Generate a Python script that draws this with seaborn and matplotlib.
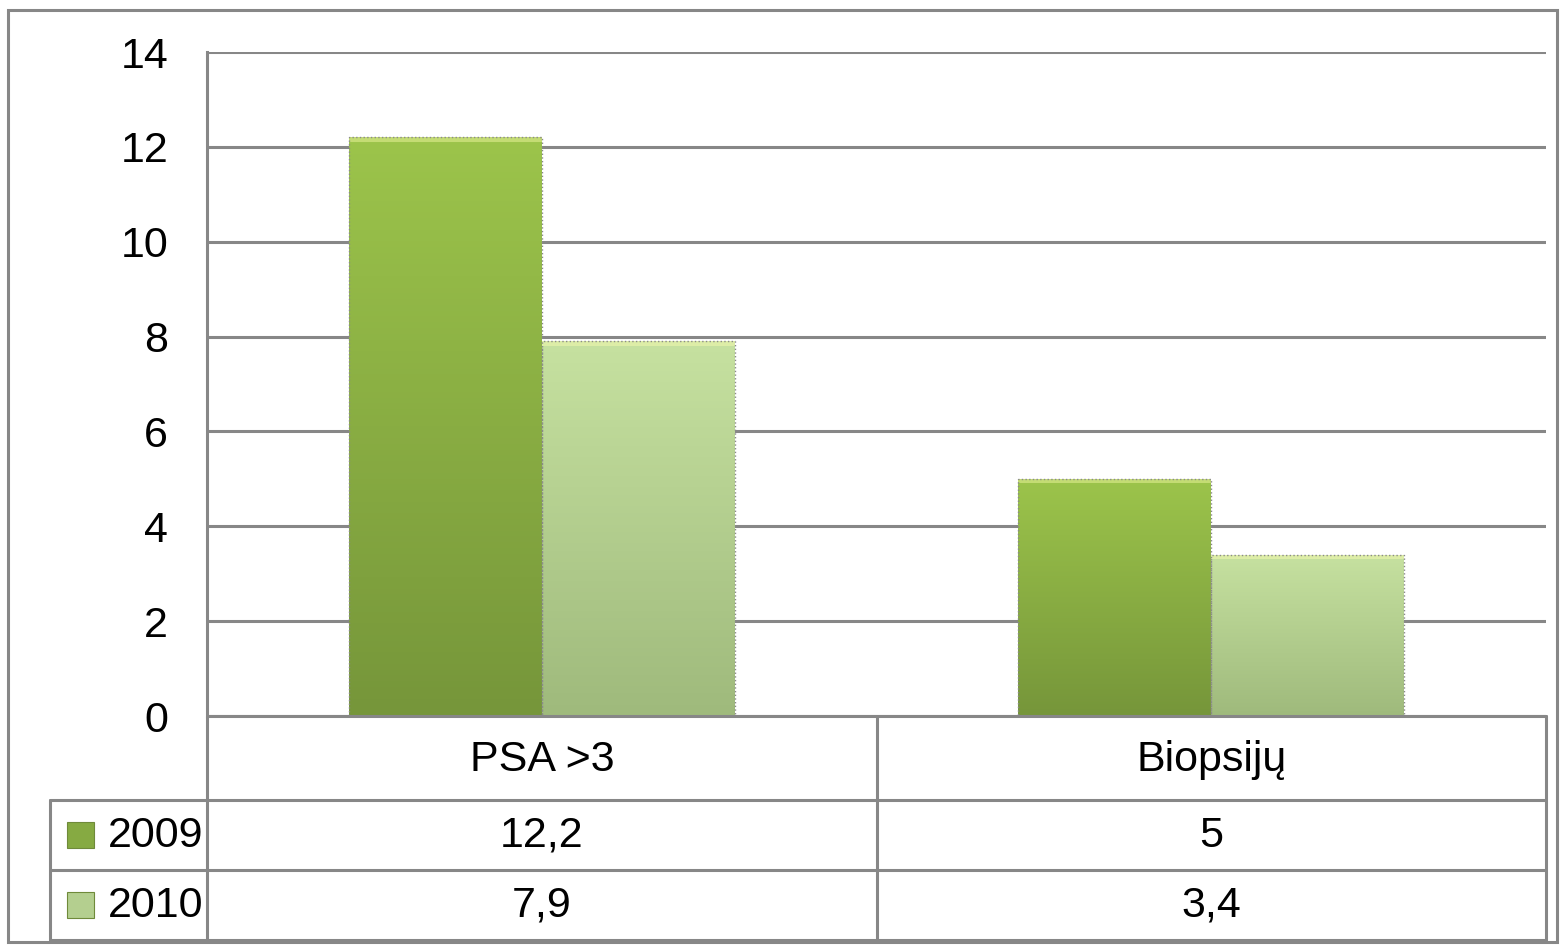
import numpy as np
import pandas as pd
import seaborn as sns
import matplotlib.pyplot as plt
from matplotlib.patches import Rectangle

# duomenys
categories = ['PSA >3', 'Biopsijų']
years = ['2009', '2010']
values_2009 = [12.2, 5]
values_2010 = [7.9, 3.4]
value_labels_2009 = ['12,2', '5']
value_labels_2010 = ['7,9', '3,4']
y_ticks = [0, 2, 4, 6, 8, 10, 12, 14]

# gradient spalvos (viršus, apačia)
grad = {'2009': ('#9cc44b', '#76963a'), '2010': ('#c6e1a0', '#9fba7c')}
key_col = {'2009': '#86aa42', '2010': '#b4cf8f'}

df = pd.DataFrame({
    'category': categories * 2,
    'year': [years[0]] * 2 + [years[1]] * 2,
    'value': values_2009 + values_2010,
})

sns.set_style('white')
plt.rcParams['font.family'] = ['Liberation Sans', 'DejaVu Sans']
plt.rcParams['text.color'] = 'black'
plt.rcParams['ytick.labelcolor'] = 'black'

W, H = 1566, 952
fig = plt.figure(figsize=(W / 100, H / 100), dpi=100)

# pagrindinė ašis
x0, x1, y_top, y_bot = 207, 1546, 52, 716
ax = fig.add_axes([x0 / W, (H - y_bot) / H, (x1 - x0) / W, (y_bot - y_top) / H])
sns.barplot(data=df, x='category', y='value', hue='year', hue_order=years,
            palette=[key_col[y] for y in years], width=0.576, saturation=1,
            legend=False, ax=ax, edgecolor='none', zorder=3)
ax.set_xlim(-0.5, 1.5)
ax.set_ylim(0, 14)
ax.set_yticks(y_ticks)
ax.set_yticklabels([str(t) for t in y_ticks], fontsize=31, color='black')
ax.set_xticks([])
ax.set_xlabel('')
ax.set_ylabel('')
ax.grid(axis='y', color='#878787', linewidth=2.2, zorder=0)
ax.tick_params(axis='y', length=14, width=2.2, color='#878787', pad=14)
for s in ['top', 'right', 'bottom']:
    ax.spines[s].set_visible(False)
ax.spines['left'].set_color('#878787')
ax.spines['left'].set_linewidth(2.2)

# gradientai stulpeliams
bars = [p for p in ax.patches if p.get_height() > 0]
n = len(categories)
for i, p in enumerate(bars):
    yr = years[i // n]
    top, bot = grad[yr]
    c1 = np.array(plt.matplotlib.colors.to_rgb(top))
    c2 = np.array(plt.matplotlib.colors.to_rgb(bot))
    t = np.linspace(0, 1, 100)[:, None]
    img = (c1 * (1 - t) + c2 * t)[:, None, :]
    bx, bw, bh = p.get_x(), p.get_width(), p.get_height()
    im = ax.imshow(img, extent=[bx, bx + bw, 0, bh], aspect='auto',
                   zorder=3, origin='upper')
    im.set_clip_path(p)
    # šviesesnis viršutinis kraštas
    light = c1 * 0.6 + np.array([1.0, 1.0, 0.7]) * 0.4
    ax.add_patch(Rectangle((bx, bh - 0.09), bw, 0.09, facecolor=np.clip(light, 0, 1),
                           edgecolor='none', zorder=4))
    ax.add_patch(Rectangle((bx, 0), bw, bh, fill=False,
                           edgecolor='#8a8a8a', linewidth=1.0,
                           linestyle=':', zorder=4))
ax.set_xlim(-0.5, 1.5)
ax.set_ylim(0, 14)

# lentelė ir rėmelis
ov = fig.add_axes([0, 0, 1, 1], facecolor='none')
ov.set_xlim(0, W)
ov.set_ylim(H, 0)
ov.axis('off')
lc = '#878787'
lw = 2.2
ov.add_patch(Rectangle((8, 10), 1549, 932, fill=False, edgecolor=lc, linewidth=lw))
mid = 877
row_y = [716, 800, 870, 940]
ov.plot([x0, x1], [716, 716], color=lc, lw=lw)
for yy in row_y[1:]:
    ov.plot([50, x1], [yy, yy], color=lc, lw=lw)
ov.plot([x0, x0], [716, 940], color=lc, lw=lw)
ov.plot([mid, mid], [716, 940], color=lc, lw=lw)
ov.plot([x1, x1], [716, 940], color=lc, lw=lw)
ov.plot([50, 50], [800, 940], color=lc, lw=lw)

col_cx = [(x0 + mid) / 2, (mid + x1) / 2]
for cx, cat in zip(col_cx, categories):
    ov.text(cx, 760, cat, fontsize=31, ha='center', va='center', color='black')

rows = [value_labels_2009, value_labels_2010]
for r, (yr, labels) in enumerate(zip(years, rows)):
    cy = (row_y[r + 1] + row_y[r + 2]) / 2
    ov.add_patch(Rectangle((67, cy - 13), 27, 26, facecolor=key_col[yr],
                           edgecolor='#6f8a3a', linewidth=0.8))
    ov.text(203, cy + 1, yr, fontsize=31, ha='right', va='center', color='black')
    for cx, lab in zip(col_cx, labels):
        ov.text(cx, cy + 1, lab, fontsize=31, ha='center', va='center', color='black')

fig.savefig('out.png', dpi=100)
